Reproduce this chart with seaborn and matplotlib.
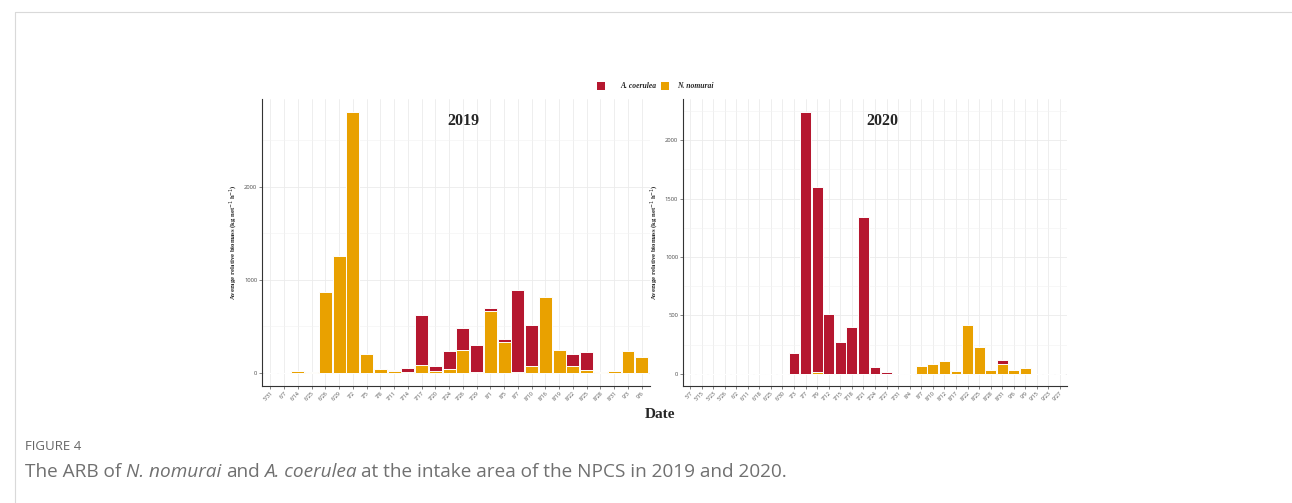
import matplotlib
matplotlib.use("Agg")
import matplotlib.pyplot as plt
import seaborn as sns
import pandas as pd
from matplotlib.lines import Line2D
from matplotlib.patches import Rectangle

# ---------------- data ----------------
dates_2019 = ["5/31", "6/7", "6/14", "6/25", "6/26", "6/29", "7/2", "7/5", "7/8", "7/11",
              "7/14", "7/17", "7/20", "7/24", "7/26", "7/29", "8/1", "8/5", "8/7", "8/10",
              "8/16", "8/19", "8/22", "8/25", "8/28", "8/31", "9/3", "9/6"]
nnomurai_2019 = [0, 3, 22, 10, 870, 1250, 2800, 200, 40, 25,
                 15, 85, 20, 45, 250, 10, 660, 335, 15, 80,
                 810, 250, 75, 30, 12, 22, 235, 170]
acoerulea_2019 = [0, 0, 0, 0, 0, 0, 0, 0, 0, 10,
                  40, 535, 55, 195, 230, 290, 40, 25, 875, 440,
                  0, 0, 125, 190, 0, 0, 0, 0]

dates_2020 = ["5/7", "5/15", "5/23", "5/26", "6/2", "6/11", "6/18", "6/25", "6/30", "7/3",
              "7/7", "7/9", "7/12", "7/15", "7/18", "7/21", "7/24", "7/27", "7/31", "8/4",
              "8/7", "8/10", "8/12", "8/17", "8/22", "8/25", "8/28", "8/31", "9/6", "9/9",
              "9/15", "9/23", "9/27"]
nnomurai_2020 = [0, 0, 0, 0, 0, 0, 0, 0, 0, 0,
                 0, 15, 0, 0, 0, 0, 0, 0, 0, 0,
                 65, 80, 105, 20, 420, 230, 30, 80, 35, 45,
                 0, 0, 0]
acoerulea_2020 = [0, 0, 0, 0, 0, 0, 0, 0, 0, 180,
                  2240, 1585, 510, 270, 400, 1340, 60, 12, 0, 0,
                  0, 0, 0, 0, 0, 0, 0, 35, 0, 0,
                  0, 0, 0]

species = ["A. coerulea", "N. nomurai"]
RED = "#B5172F"
ORANGE = "#E9A100"

SERIF = ["Liberation Serif", "DejaVu Serif"]
SANS = ["Open Sans", "DejaVu Sans"]

sns.set_theme(style="white")
plt.rcParams["font.family"] = SERIF

fig = plt.figure(figsize=(12.92, 5.03), dpi=100)
fig.patch.set_facecolor("white")


def panel(rect, dates, nn, ac, title, yticks, ylim, ytick_minor):
    ax = fig.add_axes(rect)
    df = pd.DataFrame({"date": dates,
                       "total": [a + b for a, b in zip(nn, ac)],
                       "nn": nn})
    sns.barplot(data=df, x="date", y="total", color=RED, saturation=1,
                width=0.94, edgecolor="white", linewidth=0.7, ax=ax, zorder=3)
    sns.barplot(data=df, x="date", y="nn", color=ORANGE, saturation=1,
                width=0.94, edgecolor="white", linewidth=0.7, ax=ax, zorder=4)
    n = len(dates)
    ax.set_xlim(-0.6, n - 0.4)
    ax.set_ylim(*ylim)
    ax.set_yticks(yticks)
    ax.set_yticks(ytick_minor, minor=True)
    ax.set_yticklabels([str(v) for v in yticks], fontsize=4.2, color="#4d4d4d",
                       family=SANS)
    ax.set_xticks(range(n))
    ax.set_xticklabels(dates, rotation=45, ha="right", rotation_mode="anchor",
                       fontsize=3.8, color="#4d4d4d", family=SANS)
    ax.tick_params(axis="both", which="major", length=2, width=0.5, color="#555555",
                   pad=1.5, left=True, bottom=True)
    ax.tick_params(axis="both", which="minor", length=0)
    ax.grid(True, which="major", color="#ebebeb", linewidth=0.6, zorder=0)
    ax.grid(True, which="minor", axis="y", color="#f2f2f2", linewidth=0.4, zorder=0)
    ax.set_axisbelow(True)
    for s in ["top", "right"]:
        ax.spines[s].set_visible(False)
    for s in ["left", "bottom"]:
        ax.spines[s].set_color("#333333")
        ax.spines[s].set_linewidth(0.8)
    ax.set_xlabel("")
    ax.set_ylabel("Average relative biomass (kg net$^{-1}$ h$^{-1}$)",
                  fontsize=4.8, fontweight="bold", labelpad=3)
    ax.text(0.518, 0.925, title, transform=ax.transAxes, ha="center", va="center",
            fontsize=11.5, fontweight="bold")
    return ax


W, H = 1292, 503
ax1 = panel([262 / W, 1 - 386 / H, 388 / W, 287 / H], dates_2019, nnomurai_2019,
            acoerulea_2019, "2019", [0, 1000, 2000], (-140, 2940), [500, 1500, 2500])
ax2 = panel([683 / W, 1 - 386 / H, 384 / W, 287 / H], dates_2020, nnomurai_2020,
            acoerulea_2020, "2020", [0, 500, 1000, 1500, 2000], (-105, 2352),
            [250, 750, 1250, 1750, 2250])

# legend
fig.add_artist(Rectangle((597 / W, 1 - 90 / H), 8 / W, 8 / H, transform=fig.transFigure,
                         facecolor=RED, edgecolor="none"))
fig.text(620 / W, 1 - 86 / H, species[0], fontsize=5.5, fontstyle="italic",
         fontweight="bold", va="center", ha="left")
fig.add_artist(Rectangle((661 / W, 1 - 90 / H), 8 / W, 8 / H, transform=fig.transFigure,
                         facecolor=ORANGE, edgecolor="none"))
fig.text(677 / W, 1 - 86 / H, species[1], fontsize=5.5, fontstyle="italic",
         fontweight="bold", va="center", ha="left")

# x axis title
fig.text(660 / W, 1 - 415 / H, "Date", fontsize=11, fontweight="bold",
         ha="center", va="center")

# frame lines of the page box
fig.add_artist(Line2D([15 / W, 1.0], [1 - 12 / H, 1 - 12 / H], transform=fig.transFigure,
                      color="#d9d9d9", linewidth=0.8))
fig.add_artist(Line2D([15 / W, 15 / W], [0, 1 - 12 / H], transform=fig.transFigure,
                      color="#d9d9d9", linewidth=0.8))

# caption
fig.text(25 / W, 1 - 447 / H, "FIGURE 4", fontsize=9.5, color="#666666",
         family=SANS, va="center", ha="left")

pieces = [("The ARB of", "normal"), ("N. nomurai", "italic"), ("and", "normal"),
          ("A. coerulea", "italic"), ("at the intake area of the NPCS in 2019 and 2020.", "normal")]
fig.canvas.draw()
renderer = fig.canvas.get_renderer()
x = 25 / W
space = 4.6 / W
for txt, style in pieces:
    t = fig.text(x, 1 - 472 / H, txt, fontsize=13.7, color="#707070", family=SANS,
                 fontstyle=style, va="center", ha="left")
    bb = t.get_window_extent(renderer=renderer)
    x += bb.width / W + space

fig.savefig("out.png", dpi=100, facecolor="white")
